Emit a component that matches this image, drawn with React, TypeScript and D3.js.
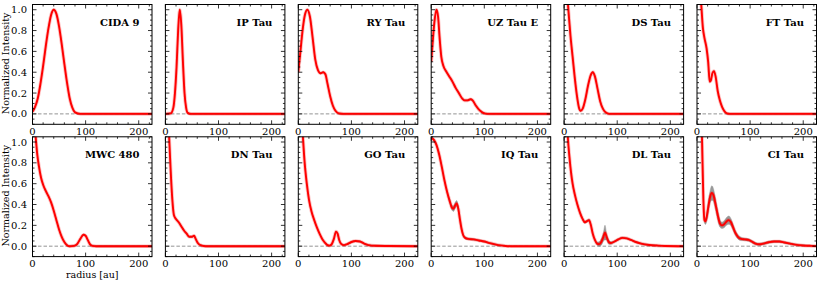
import React, { useEffect, useRef } from "react";
import * as d3 from "d3";

// radial intensity profiles, [radius au, normalized intensity]
const cida9 = [[0,0.02],[5,0.07],[10,0.15],[15,0.29],[20,0.46],[25,0.65],[30,0.82],[35,0.95],[40,1.0],[45,0.96],[50,0.84],[55,0.67],[60,0.48],[65,0.3],[70,0.15],[75,0.06],[80,0.015],[90,0],[225,0]];
const ipTau = [[0,0],[10,0.005],[15,0.06],[18,0.2],[21,0.45],[24,0.8],[27,1.0],[30,0.85],[33,0.5],[36,0.2],[39,0.06],[42,0.01],[48,0],[225,0]];
const ryTau = [[0,0.4],[4,0.6],[8,0.8],[12,0.94],[17,1.0],[22,0.93],[27,0.73],[32,0.52],[37,0.42],[42,0.39],[47,0.4],[51,0.38],[55,0.29],[60,0.17],[65,0.08],[70,0.03],[76,0.005],[85,0],[225,0]];
const uzTauE = [[0,0.5],[3,0.7],[6,0.88],[10,1.0],[13,0.93],[16,0.72],[19,0.55],[23,0.46],[28,0.41],[34,0.36],[40,0.31],[46,0.25],[52,0.2],[58,0.15],[63,0.13],[68,0.13],[74,0.14],[78,0.13],[84,0.08],[90,0.04],[96,0.015],[102,0.003],[110,0],[225,0]];
const dsTau = [[0,1.6],[4,1.3],[8,1.0],[12,0.75],[16,0.55],[20,0.35],[24,0.18],[28,0.06],[31,0.03],[35,0.05],[40,0.14],[45,0.27],[50,0.37],[54,0.4],[58,0.36],[63,0.24],[68,0.12],[73,0.05],[78,0.015],[85,0],[225,0]];
const ftTau = [[0,1.6],[4,1.3],[8,1.05],[11,0.83],[14,0.73],[18,0.63],[21,0.5],[24,0.31],[26,0.32],[29,0.39],[32,0.41],[35,0.36],[39,0.22],[43,0.13],[47,0.07],[51,0.03],[56,0.005],[62,0],[225,0]];
const mwc480 = [[0,1.5],[3,1.25],[6,1.05],[9,0.88],[12,0.77],[16,0.66],[20,0.59],[25,0.53],[30,0.48],[35,0.42],[40,0.34],[45,0.25],[50,0.16],[55,0.09],[60,0.04],[65,0.01],[70,0.0],[78,0.003],[84,0.02],[90,0.07],[96,0.11],[100,0.1],[104,0.06],[108,0.02],[113,0.003],[120,0],[225,0]];
const dnTau = [[0,2],[4,1.5],[7,1.05],[10,0.72],[13,0.45],[16,0.3],[20,0.26],[25,0.23],[30,0.19],[35,0.15],[40,0.12],[45,0.09],[50,0.09],[54,0.1],[57,0.07],[61,0.03],[66,0.01],[72,0.002],[80,0],[225,0]];
const goTau = [[0,1.8],[4,1.4],[8,1.1],[12,0.8],[16,0.6],[20,0.45],[25,0.33],[30,0.25],[35,0.18],[40,0.12],[45,0.07],[50,0.035],[55,0.01],[59,0.005],[63,0.02],[67,0.07],[71,0.14],[74,0.12],[77,0.06],[81,0.02],[86,0.01],[92,0.02],[100,0.04],[108,0.05],[116,0.045],[124,0.025],[132,0.01],[145,0.004],[170,0.002],[225,0]];
const iqTau = [[0,1.04],[5,1.02],[10,0.97],[15,0.88],[20,0.76],[25,0.63],[30,0.52],[35,0.43],[39,0.37],[42,0.36],[45,0.39],[48,0.41],[51,0.36],[54,0.26],[57,0.17],[60,0.11],[64,0.08],[70,0.07],[80,0.065],[90,0.055],[100,0.045],[110,0.03],[120,0.018],[130,0.008],[140,0.002],[150,0],[225,0]];
const dlTau = [[0,2],[4,1.4],[7,1.05],[10,0.86],[13,0.71],[16,0.6],[20,0.5],[25,0.4],[30,0.32],[35,0.26],[39,0.23],[43,0.24],[47,0.25],[50,0.21],[54,0.12],[58,0.06],[62,0.025],[66,0.02],[70,0.04],[74,0.09],[77,0.13],[80,0.09],[84,0.04],[88,0.03],[95,0.045],[102,0.065],[110,0.08],[118,0.075],[126,0.06],[135,0.04],[145,0.025],[160,0.012],[175,0.006],[190,0.002],[225,0]];
const ciTau = [[0,4],[5,2.5],[8,1.4],[10,0.9],[12,0.45],[14,0.25],[16,0.24],[19,0.3],[22,0.4],[25,0.48],[28,0.51],[31,0.49],[35,0.4],[39,0.3],[43,0.22],[47,0.2],[51,0.21],[56,0.24],[60,0.25],[64,0.23],[68,0.18],[72,0.13],[77,0.09],[83,0.07],[90,0.065],[97,0.06],[103,0.045],[110,0.025],[117,0.018],[125,0.025],[135,0.038],[145,0.045],[155,0.045],[165,0.035],[175,0.025],[185,0.015],[200,0.007],[215,0.003],[225,0.001]];

// half-width of the posterior spread (gray band), [radius au, spread]
const thinSpread = [[0,0.006],[225,0.006]];
const iqTauSpread = [[0,0.01],[30,0.012],[40,0.025],[47,0.03],[55,0.015],[70,0.008],[150,0.004],[225,0.003]];
const dlTauSpread = [[0,0.01],[60,0.01],[74,0.04],[77,0.07],[80,0.03],[90,0.008],[225,0.003]];
const ciTauSpread = [[0,0.02],[14,0.025],[22,0.05],[28,0.07],[35,0.05],[47,0.03],[60,0.04],[70,0.025],[90,0.012],[225,0.005]];

const names = ["CIDA 9", "IP Tau", "RY Tau", "UZ Tau E", "DS Tau", "FT Tau", "MWC 480", "DN Tau", "GO Tau", "IQ Tau", "DL Tau", "CI Tau"];
const profiles = [cida9, ipTau, ryTau, uzTauE, dsTau, ftTau, mwc480, dnTau, goTau, iqTau, dlTau, ciTau];
const spreads = [thinSpread, thinSpread, thinSpread, thinSpread, thinSpread, thinSpread, thinSpread, thinSpread, thinSpread, iqTauSpread, dlTauSpread, ciTauSpread];

const xTicks = [0, 100, 200];
const yTicks = [0, 0.2, 0.4, 0.6, 0.8, 1.0];

const App = () => {
  const ref = useRef(null);
  const width = 822;
  const height = 284;
  const panelW = 119.5;
  const panelH = 119.8;
  const lefts = d3.range(6).map((i) => 32.5 + i * 132.9);
  const tops = [4.5, 136.8];
  const font = "DejaVu Serif, serif";

  useEffect(() => {
    const svg = d3.select(ref.current);
    svg.selectAll("*").remove();

    names.forEach((name, idx) => {
      const col = idx % 6;
      const row = Math.floor(idx / 6);
      const x0 = lefts[col];
      const y0 = tops[row];
      const x = d3.scaleLinear([0, 225], [0, panelW]);
      const y = d3.scaleLinear([-0.1, 1.05], [panelH, 0]);
      const g = svg.append("g").attr("transform", `translate(${x0},${y0})`);

      const clipId = `clip-${idx}`;
      g.append("clipPath").attr("id", clipId)
        .append("rect").attr("width", panelW).attr("height", panelH);

      const plot = g.append("g").attr("clip-path", `url(#${clipId})`);
      const data = profiles[idx];
      const spr = spreads[idx];
      const sprScale = d3.scaleLinear(spr.map((d) => d[0]), spr.map((d) => d[1]));

      // zero line
      plot.append("line")
        .attr("x1", 0).attr("x2", panelW)
        .attr("y1", y(0)).attr("y2", y(0))
        .attr("stroke", "#777").attr("stroke-width", 0.8)
        .attr("stroke-dasharray", "3.5,2");

      // gray band
      const area = d3.area()
        .x((d) => x(d[0]))
        .y0((d) => y(d[1] - sprScale(d[0])))
        .y1((d) => y(d[1] + sprScale(d[0])))
        .curve(d3.curveMonotoneX);
      plot.append("path").attr("d", area(data))
        .attr("fill", "#777").attr("fill-opacity", 0.75)
        .attr("stroke", "#999").attr("stroke-width", 0.8).attr("stroke-opacity", 0.6);

      const line = d3.line()
        .x((d) => x(d[0]))
        .y((d) => y(d[1]))
        .curve(d3.curveMonotoneX);
      plot.append("path").attr("d", line(data))
        .attr("fill", "none").attr("stroke", "#ff0000")
        .attr("stroke-opacity", 0.25).attr("stroke-width", 3.6);
      plot.append("path").attr("d", line(data))
        .attr("fill", "none").attr("stroke", "#ff0000")
        .attr("stroke-width", 1.9).attr("stroke-linejoin", "round");

      // ticks on all four sides, pointing in
      const xMinor = d3.range(0, 226, 20);
      const yMinor = d3.range(-0.1, 1.051, 0.05);
      const tk = g.append("g").attr("stroke", "#000").attr("stroke-width", 0.8);
      xMinor.forEach((v) => {
        const len = v % 100 === 0 ? 4 : 2;
        tk.append("line").attr("x1", x(v)).attr("x2", x(v)).attr("y1", panelH).attr("y2", panelH - len);
        tk.append("line").attr("x1", x(v)).attr("x2", x(v)).attr("y1", 0).attr("y2", len);
      });
      yMinor.forEach((v) => {
        const major = Math.abs(Math.round(v * 5) - v * 5) < 1e-6;
        const len = major ? 4 : 2;
        tk.append("line").attr("y1", y(v)).attr("y2", y(v)).attr("x1", 0).attr("x2", len);
        tk.append("line").attr("y1", y(v)).attr("y2", y(v)).attr("x1", panelW).attr("x2", panelW - len);
      });

      g.append("rect").attr("width", panelW).attr("height", panelH)
        .attr("fill", "none").attr("stroke", "#000").attr("stroke-width", 1);

      // tick labels
      xTicks.forEach((v) => {
        g.append("text").attr("x", x(v)).attr("y", panelH + 10.5)
          .attr("text-anchor", "middle").attr("font-family", font).attr("font-size", 10)
          .text(v);
      });
      if (col === 0) {
        yTicks.forEach((v) => {
          g.append("text").attr("x", -5.5).attr("y", y(v) + 3.6)
            .attr("text-anchor", "end").attr("font-family", font).attr("font-size", 10)
            .text(v.toFixed(1));
        });
        g.append("text")
          .attr("transform", `translate(${-24},${panelH / 2 - 1}) rotate(-90)`)
          .attr("text-anchor", "middle").attr("font-family", font).attr("font-size", 9.5)
          .text("Normalized Intensity");
      }
      if (idx === 6) {
        g.append("text").attr("x", panelW / 2).attr("y", panelH + 21.5)
          .attr("text-anchor", "middle").attr("font-family", font).attr("font-size", 9.5)
          .text("radius [au]");
      }

      g.append("text").attr("x", panelW - 12.5).attr("y", 21.5)
        .attr("text-anchor", "end").attr("font-family", font).attr("font-size", 10)
        .attr("font-weight", "bold").text(name);
    });
  }, []);

  return (
    <svg
      ref={ref}
      width={width}
      height={height}
      viewBox={`0 0 ${width} ${height}`}
      style={{ position: "absolute", left: 0, top: 0, background: "#fff" }}
    />
  );
};

export default App;
